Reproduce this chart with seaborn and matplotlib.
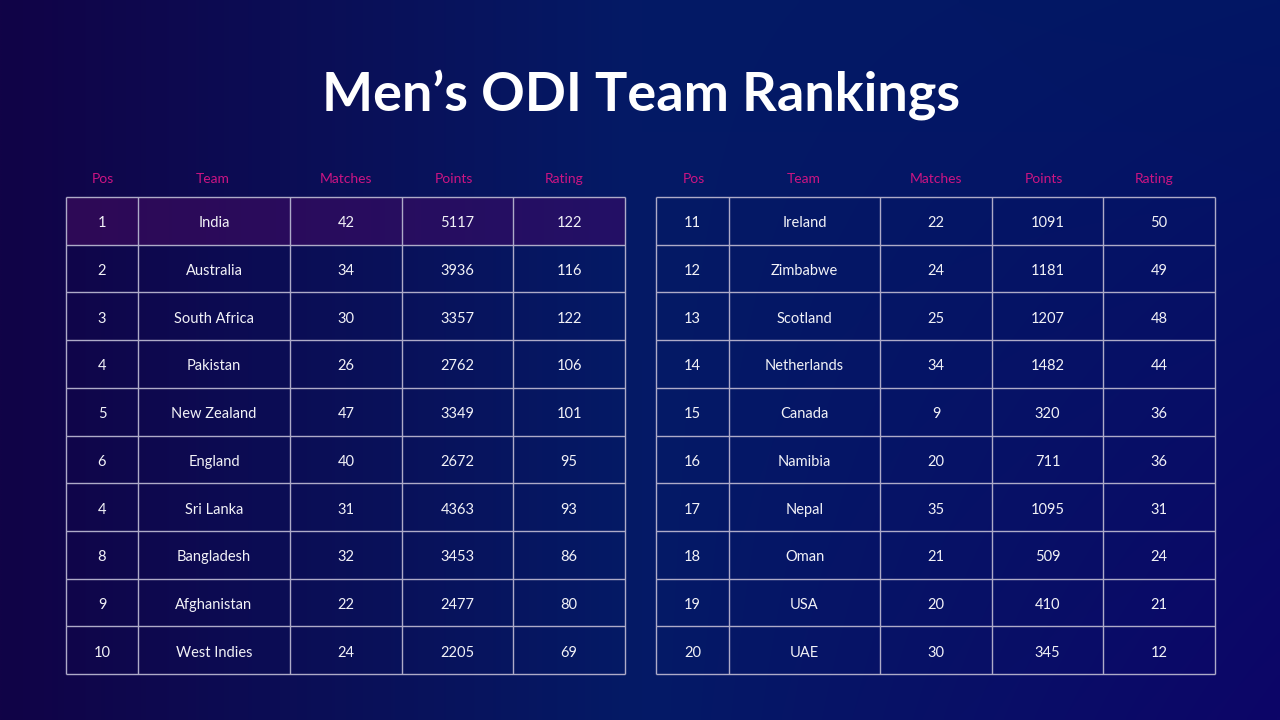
import numpy as np
import matplotlib
matplotlib.use("Agg")
import matplotlib.pyplot as plt
import seaborn as sns
from matplotlib.colors import to_rgb

# ---------------- data ----------------
columns = ["Pos", "Team", "Matches", "Points", "Rating"]

pos_left = [1, 2, 3, 4, 5, 6, 4, 8, 9, 10]
team_left = ["India", "Australia", "South Africa", "Pakistan", "New Zealand",
             "England", "Sri Lanka", "Bangladesh", "Afghanistan", "West Indies"]
matches_left = [42, 34, 30, 26, 47, 40, 31, 32, 22, 24]
points_left = [5117, 3936, 3357, 2762, 3349, 2672, 4363, 3453, 2477, 2205]
rating_left = [122, 116, 122, 106, 101, 95, 93, 86, 80, 69]

pos_right = [11, 12, 13, 14, 15, 16, 17, 18, 19, 20]
team_right = ["Ireland", "Zimbabwe", "Scotland", "Netherlands", "Canada",
              "Namibia", "Nepal", "Oman", "USA", "UAE"]
matches_right = [22, 24, 25, 34, 9, 20, 35, 21, 20, 30]
points_right = [1091, 1181, 1207, 1482, 320, 711, 1095, 509, 410, 345]
rating_right = [50, 49, 48, 44, 36, 36, 31, 24, 21, 12]

title = "Men\u2019s ODI Team Rankings"

# ---------------- style ----------------
sns.set_theme(style="white")
plt.rcParams['font.family'] = ['Lato', 'DejaVu Sans']

W, H = 1280, 720
fig = plt.figure(figsize=(12.8, 7.2), dpi=100)
ax = fig.add_axes([0, 0, 1, 1])
ax.set_xlim(0, W)
ax.set_ylim(H, 0)
ax.axis("off")

# background gradient
xs = np.linspace(0, 1, 256)
ys = np.linspace(0, 1, 144)
X, Y = np.meshgrid(xs, ys)
c_left = np.array(to_rgb("#110347"))
c_mid = np.array(to_rgb("#041a66"))
c_right = np.array(to_rgb("#0d0568"))
t = X
w_left = np.clip(1 - 2 * t, 0, 1)
w_right = np.clip(2 * t - 1, 0, 1)
w_mid = 1 - w_left - w_right
c_right_top = np.array(to_rgb("#021664"))
c_r = c_right_top[None, None, :] * (1 - Y[..., None]) + c_right[None, None, :] * Y[..., None]
img = (w_left[..., None] * c_left + w_mid[..., None] * c_mid + w_right[..., None] * c_r)
ax.imshow(img, extent=[0, W, H, 0], aspect="auto", zorder=0, interpolation="bilinear")

ax.text(W / 2 + 1, 95, title, ha="center", va="center", color="white",
        fontsize=39, fontweight="bold", zorder=5)

line_color = "#aeabc8"
text_color = "#f2f2f7"
head_color = "#cc1483"

row_top = 197
row_bottom = 674
n_rows = 10
row_edges = np.linspace(row_top, row_bottom, n_rows + 1)
header_shift = [1, -1, 0, -4, -5]


def draw_table(x_edges, data_cols, highlight_first=False):
    if highlight_first:
        g = np.linspace(0, 1, 200)[None, :]
        c1 = np.array(to_rgb("#2e0956"))
        c2 = np.array(to_rgb("#231066"))
        hl = c1[None, None, :] * (1 - g[..., None]) + c2[None, None, :] * g[..., None]
        ax.imshow(hl, extent=[x_edges[0], x_edges[-1], row_edges[1], row_edges[0]],
                  aspect="auto", zorder=1, interpolation="bilinear")
    # header
    for j, name in enumerate(columns):
        cx = (x_edges[j] + x_edges[j + 1]) / 2 + header_shift[j]
        ax.text(cx, 179, name, ha="center", va="center", color=head_color,
                fontsize=10, zorder=5)
    # grid
    ax.hlines(row_edges, x_edges[0], x_edges[-1], colors=line_color, linewidth=1, zorder=3)
    ax.vlines(x_edges, row_edges[0], row_edges[-1], colors=line_color, linewidth=1, zorder=3)
    # cells
    for i in range(n_rows):
        cy = (row_edges[i] + row_edges[i + 1]) / 2 + 2.5
        for j, col in enumerate(data_cols):
            cx = (x_edges[j] + x_edges[j + 1]) / 2
            ax.text(cx, cy, str(col[i]), ha="center", va="center", color=text_color,
                    fontsize=10.5, zorder=5)


left_edges = [66, 138, 290, 402, 513, 625]
right_edges = [656, 729, 880, 992, 1103, 1215]

draw_table(left_edges, [pos_left, team_left, matches_left, points_left, rating_left],
           highlight_first=True)
draw_table(right_edges, [pos_right, team_right, matches_right, points_right, rating_right])

fig.savefig("out.png", dpi=100)
